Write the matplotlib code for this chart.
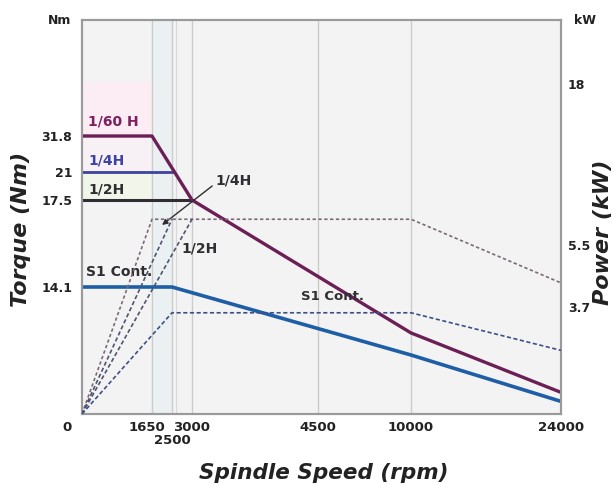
import numpy as np
import matplotlib
matplotlib.use('Agg')
import matplotlib.pyplot as plt
from matplotlib.transforms import ScaledTranslation

plt.rcParams['font.family'] = ['DejaVu Sans']
plt.rcParams['font.weight'] = 'bold'

# ---------------- data ----------------
rpm_ticks = [0, 1650, 2500, 3000, 4500, 10000, 24000]
rpm_labels = ['0', '1650', '2500', '3000', '4500', '10000', '24000']
torque_ticks = [0, 14.1, 17.5, 21, 31.8]
torque_labels = ['', '14.1', '17.5', '21', '31.8']
power_ticks = [3.7, 5.5, 18]
power_labels = ['3.7', '5.5', '18']

# torque curves (Nm)
t60_rpm = [0, 1650, 3000, 10000, 24000]
t60_nm = [31.8, 31.8, 17.5, 9.0, 2.4]
t4_rpm = [0, 2500]
t4_nm = [21, 21]
t2_rpm = [0, 3000]
t2_nm = [17.5, 17.5]
s1_rpm = [0, 2500, 10000, 24000]
s1_nm = [14.1, 14.1, 6.55, 1.4]

# power curves (kW)
p60_rpm = [0, 1650, 10000, 24000]
p60_kw = [0, 7.5, 7.5, 4.4]
p4_rpm = [0, 2500]
p4_kw = [0, 7.5]
p2_rpm = [0, 3000]
p2_kw = [0, 7.5]
s1p_rpm = [0, 2500, 10000, 24000]
s1p_kw = [0, 3.5, 3.5, 2.2]

# ---------------- piecewise axis scales ----------------
def make_scale(knots, pos):
    knots = np.asarray(knots, float)
    pos = np.asarray(pos, float)

    def f(v, a, b):
        v = np.asarray(v, float)
        out = np.interp(v, a, b)
        s0 = (b[1] - b[0]) / (a[1] - a[0])
        s1 = (b[-1] - b[-2]) / (a[-1] - a[-2])
        out = np.where(v < a[0], b[0] + (v - a[0]) * s0, out)
        out = np.where(v > a[-1], b[-1] + (v - a[-1]) * s1, out)
        return out
    return (lambda v: f(v, knots, pos)), (lambda v: f(v, pos, knots))

x_fwd, x_inv = make_scale([0, 1650, 2500, 3000, 4500, 10000, 24000],
                          [0, 70, 90, 110, 236, 329, 479])
t_fwd, t_inv = make_scale([0, 14.1, 17.5, 21, 31.8, 45],
                          [0, 127, 214, 242, 278, 394])
p_fwd, p_inv = make_scale([0, 3.7, 5.5, 18, 25],
                          [0, 107, 169, 330, 394])

# ---------------- figure ----------------
fig = plt.figure(figsize=(6.13, 4.84), dpi=100)
ax = fig.add_axes([82 / 613, 1 - 414 / 484, 479 / 613, 394 / 484])
ax.set_xscale('function', functions=(x_fwd, x_inv))
ax.set_yscale('function', functions=(t_fwd, t_inv))
ax.set_xlim(0, 24000)
ax.set_ylim(0, 45)
ax.set_facecolor('#f3f3f3')

ax2 = ax.twinx()
ax2.set_yscale('function', functions=(p_fwd, p_inv))
ax2.set_ylim(0, 25)

# background tints
ax.axvspan(1650, 2500, color='#ebf1f2', zorder=0)
ax.axhspan(31.8, 38, xmin=0, xmax=70 / 479, color='#fbedf3', zorder=0)
ax.axhspan(21, 31.8, xmin=0, xmax=70 / 479, color='#f7f0f5', zorder=0)
ax.axhspan(17.5, 21, xmin=0, xmax=70 / 479, color='#f1f5ea', zorder=0)

for r in rpm_ticks[1:-1]:
    ax.axvline(r, color='#cccccc', lw=1.0, zorder=1)
ax.axvline(2600, color='#d8d8d8', lw=0.8, zorder=1)

# power (dashed) on right axis
ax2.plot(p60_rpm, p60_kw, color='#7c6a78', lw=1.2, ls=(0, (2, 1.5)), zorder=3)
ax2.plot(p4_rpm, p4_kw, color='#4f5470', lw=1.2, ls=(0, (2.5, 1.5)), zorder=3)
ax2.plot(p2_rpm, p2_kw, color='#4f5470', lw=1.2, ls=(0, (2.5, 1.5)), zorder=3)
ax2.plot(s1p_rpm, s1p_kw, color='#3f4f86', lw=1.2, ls=(0, (2.5, 1.5)), zorder=3)

# torque (solid) on left axis
ax.plot(t4_rpm, t4_nm, color='#3d43a0', lw=2.0, zorder=4)
ax.plot(t2_rpm, t2_nm, color='#2f2f33', lw=2.2, zorder=4)
ax.plot(s1_rpm, s1_nm, color='#1e5ea6', lw=2.6, zorder=4)
ax.plot(t60_rpm, t60_nm, color='#6b1f55', lw=2.4, zorder=5)
ax.set_zorder(2)
ax2.set_zorder(3)
ax2.patch.set_visible(False)

# ticks
ax.set_xticks(rpm_ticks)
ax.set_xticklabels(rpm_labels)
ax.set_yticks(torque_ticks)
ax.set_yticklabels(torque_labels)
ax.xaxis.set_minor_locator(matplotlib.ticker.NullLocator())
ax.yaxis.set_minor_locator(matplotlib.ticker.NullLocator())
ax2.yaxis.set_minor_locator(matplotlib.ticker.NullLocator())
ax.tick_params(axis='x', length=0, pad=5, labelsize=9.5, colors='#222222')
ax.tick_params(axis='y', length=0, pad=7, labelsize=9, colors='#222222')
ax2.set_yticks(power_ticks)
ax2.set_yticklabels(power_labels)
ax2.tick_params(axis='y', length=0, pad=5, labelsize=9, colors='#222222')
xl = ax.get_xticklabels()
for lbl in xl:
    lbl.set_fontweight('bold')
xl[0].set_transform(xl[0].get_transform() + ScaledTranslation(-15 / 100, 0, fig.dpi_scale_trans))
xl[1].set_transform(xl[1].get_transform() + ScaledTranslation(-5 / 100, 0, fig.dpi_scale_trans))
xl[2].set_transform(xl[2].get_transform() + ScaledTranslation(0, -13 / 100, fig.dpi_scale_trans))
for lbl in ax.get_yticklabels() + ax2.get_yticklabels():
    lbl.set_fontweight('bold')

for a in (ax, ax2):
    for s in a.spines.values():
        s.set_color('#9a9a9a')
        s.set_linewidth(1.5)

# series labels
W, H = 479, 394
def axpos(px, py):
    return ((px - 82) / W, (414 - py) / H)

ax.text(*axpos(88, 121), '1/60 H', transform=ax.transAxes, color='#7b2060',
        fontsize=10, fontweight='bold', ha='left', va='center', zorder=6)
ax.text(*axpos(88, 160), '1/4H', transform=ax.transAxes, color='#3d43a0',
        fontsize=10, fontweight='bold', ha='left', va='center', zorder=6)
ax.text(*axpos(88, 189), '1/2H', transform=ax.transAxes, color='#2f2f33',
        fontsize=10, fontweight='bold', ha='left', va='center', zorder=6)
ax.text(*axpos(86, 272), 'S1 Cont.', transform=ax.transAxes, color='#2f2f33',
        fontsize=10, fontweight='bold', ha='left', va='center', zorder=6)
ax.text(*axpos(301, 297), 'S1 Cont.', transform=ax.transAxes, color='#2f2f33',
        fontsize=9.5, fontweight='bold', ha='left', va='center', zorder=6)
ax.text(*axpos(181, 248), '1/2H', transform=ax.transAxes, color='#2f2f33',
        fontsize=10, fontweight='bold', ha='left', va='center', zorder=6)
ax.annotate('1/4H', xy=axpos(162, 225), xycoords='axes fraction',
            xytext=axpos(215, 181), textcoords='axes fraction',
            color='#2f2f33', fontsize=10, fontweight='bold', ha='left', va='center',
            arrowprops=dict(arrowstyle='-|>', color='#2f2f33', lw=1.0,
                            shrinkA=0, shrinkB=0, relpos=(0, 0.3), mutation_scale=8),
            zorder=6)

# axis titles
fig.text(324 / 613, 1 - 473 / 484, 'Spindle Speed (rpm)', ha='center', va='center',
         fontsize=15.5, fontweight='bold', style='italic', color='#222222')
fig.text(21 / 613, 1 - 229 / 484, 'Torque (Nm)', ha='center', va='center', rotation=90,
         fontsize=16, fontweight='bold', style='italic', color='#222222')
fig.text(603 / 613, 1 - 232 / 484, 'Power (kW)', ha='center', va='center', rotation=90,
         fontsize=16, fontweight='bold', style='italic', color='#222222')
fig.text(60 / 613, 1 - 20 / 484, 'Nm', ha='center', va='center', fontsize=9,
         fontweight='bold', color='#222222')
fig.text(585 / 613, 1 - 20 / 484, 'kW', ha='center', va='center', fontsize=9,
         fontweight='bold', color='#222222')

fig.savefig('out.png', dpi=100)
